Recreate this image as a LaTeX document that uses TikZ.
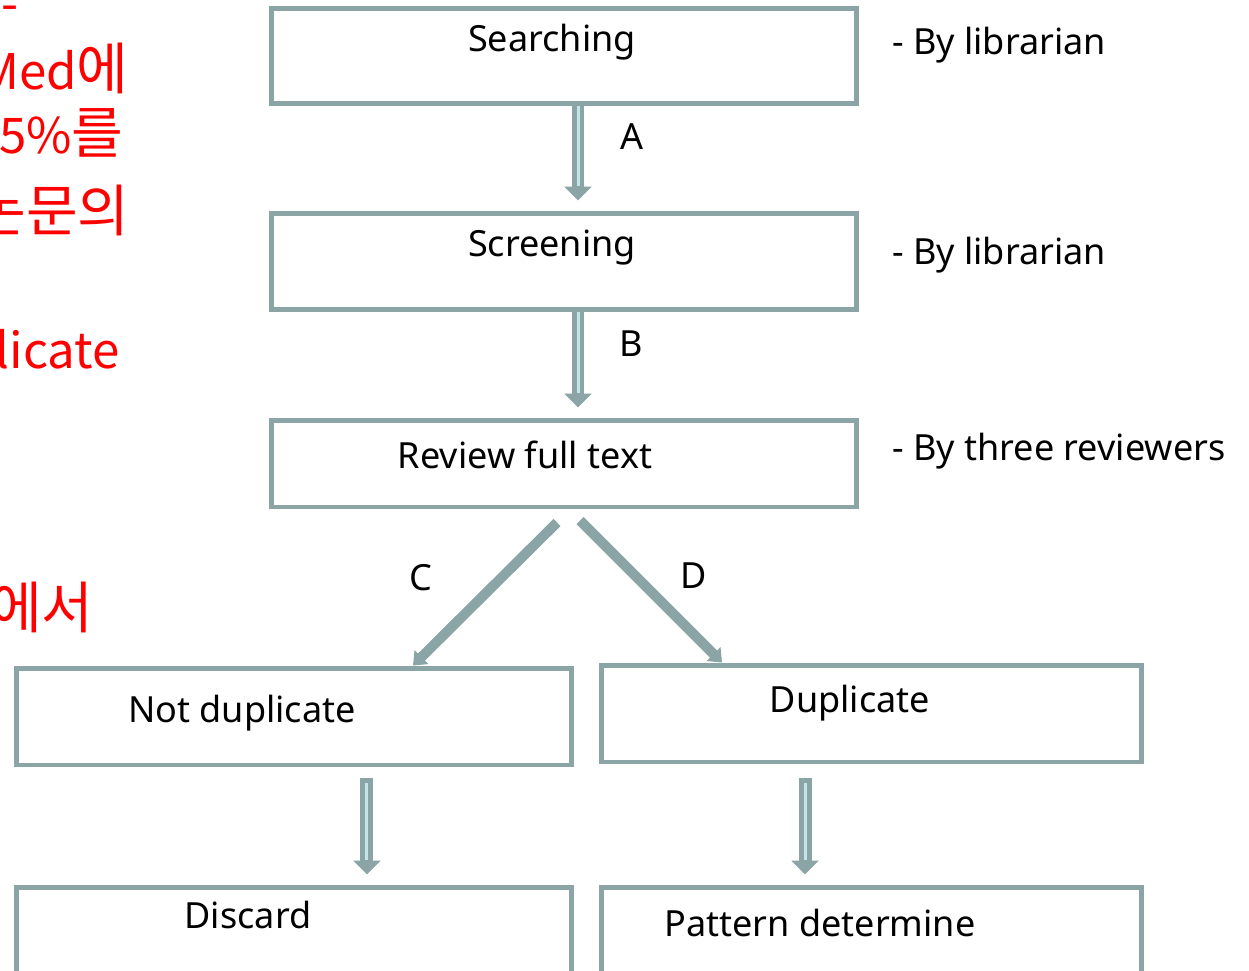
\documentclass[tikz,border=0pt]{standalone}
\usepackage{fontspec}
\setmainfont{Noto Sans}
\newfontfamily\korfont{Noto Sans CJK KR}
\newcommand{\bighan}[1]{{\fontsize{32}{38}\selectfont #1}}
\usetikzlibrary{arrows.meta}
\definecolor{flowgray}{RGB}{139,165,167}
\definecolor{flowlight}{RGB}{196,228,231}

\begin{document}
\begin{tikzpicture}[x=0.02cm,y=-0.02cm,
    box/.style={draw=flowgray, line width=0.1cm, minimum height=1.94cm, inner sep=0pt},
    boxtext/.style={font=\fontsize{20.5}{24}\selectfont},
    note/.style={font=\fontsize{20.5}{24}\selectfont, anchor=west},
    redtext/.style={text=red, font=\korfont\fontsize{28}{34}\selectfont, anchor=east, inner sep=0pt},
    fatarrow/.style={draw=flowgray, line width=0.26cm, -{Triangle[width=0.54cm,length=0.28cm]}},
    innerline/.style={draw=flowlight, line width=0.06cm},
    slantarrow/.style={draw=flowgray, line width=0.2cm, -{Triangle[width=0.38cm,length=0.24cm]}}]
    \useasboundingbox (0,0) rectangle (1249,971);
    \clip (0,0) rectangle (1249,971);

    % clipped red text on the left
    \node[redtext, anchor=base east] (reddash) at (19,21) {-};
    \node[redtext] (redmed) at (129,68) {Med\bighan{에}};
    \node[redtext] (redpct) at (124,133) {5\%\bighan{를}};
    \node[redtext] (redpaper) at (130,210) {\bighan{논문의}};
    \node[redtext] (reddup) at (120,349) {licate};
    \node[redtext] (redeseo) at (94,607) {\bighan{에서}};

    % boxes
    \node[box, minimum width=11.72cm, minimum height=1.92cm] (search) at (564,56) {};
    \node[box, minimum width=11.72cm] (screen) at (564,261.5) {};
    \node[box, minimum width=11.72cm, minimum height=1.74cm] (review) at (564,463.5) {};
    \node[box, minimum width=11.12cm] (notdup) at (294,716.5) {};
    \node[box, minimum width=10.82cm] (dup) at (871.5,713.5) {};
    \node[box, minimum width=11.12cm] (discard) at (294,935.5) {};
    \node[box, minimum width=10.82cm] (pattern) at (871.5,935.5) {};

    % box texts
    \node[boxtext] (searchtxt) at (552,42) {Searching};
    \node[boxtext] (screentxt) at (552,248) {Screening};
    \node[boxtext] (reviewtxt) at (525,455) {Review full text};
    \node[boxtext] (notduptxt) at (242,713) {Not duplicate};
    \node[boxtext] (duptxt) at (850,703) {Duplicate};
    \node[boxtext] (discardtxt) at (248,915) {Discard};
    \node[boxtext] (patterntxt) at (820,923) {Pattern determine};

    % notes on the right
    \node[note] (note1) at (886,45) {- By librarian};
    \node[note] (note2) at (886,255) {- By librarian};
    \node[note] (note3) at (886,451) {- By three reviewers};

    % arrows
    \draw[fatarrow, shorten >=0.2cm] ([xshift=0.28cm]search.south) -- ([xshift=0.28cm]screen.north);
    \draw[innerline, shorten >=0.5cm] ([xshift=0.28cm]search.south) -- ([xshift=0.28cm]screen.north);
    \draw[fatarrow, shorten >=0.2cm] ([xshift=0.28cm]screen.south) -- ([xshift=0.28cm]review.north);
    \draw[innerline, shorten >=0.5cm] ([xshift=0.28cm]screen.south) -- ([xshift=0.28cm]review.north);
    \draw[fatarrow, shorten <=0.22cm, shorten >=0.2cm] ([xshift=1.46cm]notdup.south) -- ([xshift=1.46cm]discard.north);
    \draw[innerline, shorten <=0.32cm, shorten >=0.5cm] ([xshift=1.46cm]notdup.south) -- ([xshift=1.46cm]discard.north);
    \draw[fatarrow, shorten <=0.28cm, shorten >=0.2cm] ([xshift=-1.33cm]dup.south) -- ([xshift=-1.33cm]pattern.north);
    \draw[innerline, shorten <=0.38cm, shorten >=0.5cm] ([xshift=-1.33cm]dup.south) -- ([xshift=-1.33cm]pattern.north);

    \draw[slantarrow] ([shift={(-7,13)}]review.south) -- ([xshift=2.38cm]notdup.north);
    \draw[slantarrow] ([shift={(16,11)}]review.south) -- ([xshift=-2.99cm]dup.north);

    % arrow labels
    \node[boxtext] (labA) at (632,137) {A};
    \node[boxtext] (labB) at (631,344) {B};
    \node[boxtext] (labC) at (421,578) {C};
    \node[boxtext] (labD) at (694,576) {D};
\end{tikzpicture}
\end{document}
